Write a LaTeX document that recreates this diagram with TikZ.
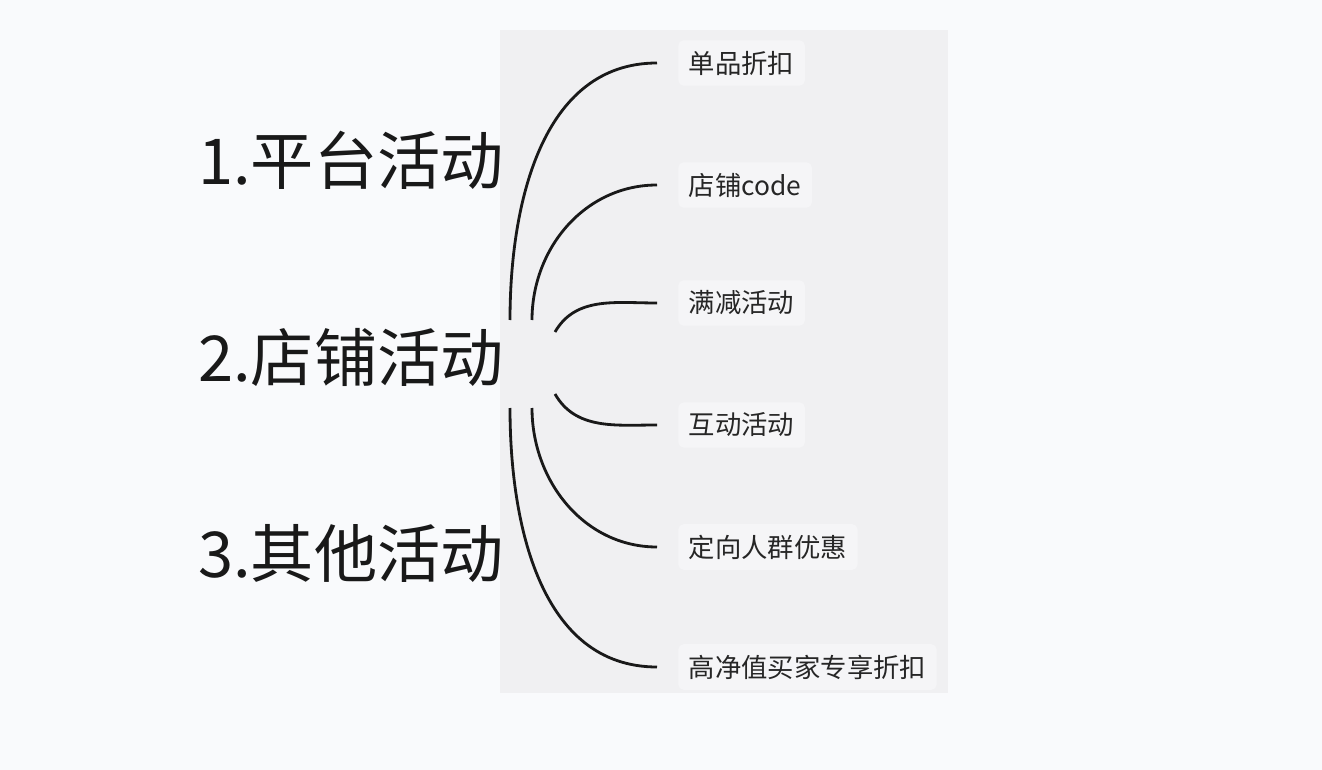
\documentclass[tikz,border=0pt]{standalone}
\usepackage{fontspec}
\setmainfont{Noto Sans CJK SC}
\definecolor{bg}{HTML}{F9FAFC}
\definecolor{panel}{HTML}{F0F0F2}
\definecolor{lbl}{HTML}{F5F5F7}
\tikzset{
  big/.style={font=\fontsize{36}{40}\selectfont, text=black!90, anchor=west},
  lab/.style={font=\fontsize{15}{17}\selectfont, text=black!85, anchor=west, fill=lbl, rounded corners=3pt, inner sep=6pt},
  br/.style={line width=1.6pt, draw=black!90}
}
\begin{document}
\begin{tikzpicture}[x=0.02cm,y=-0.02cm]
\fill[bg] (0,0) rectangle (1322,770);
\useasboundingbox (0,0) rectangle (1322,770);
\fill[panel] (500,30) rectangle (948,693);
\node[big] (t1) at (192,160) {1.平台活动};
\node[big] (t2) at (192,357) {2.店铺活动};
\node[big] (t3) at (192,553) {3.其他活动};
\node[lab] (l1) at (678,63) {单品折扣};
\node[lab] (l2) at (678,185) {店铺code};
\node[lab] (l3) at (678,303) {满减活动};
\node[lab] (l4) at (678,425) {互动活动};
\node[lab] (l5) at (678,547) {定向人群优惠};
\node[lab] (l6) at (678,667) {高净值买家专享折扣};
\coordinate (s1) at (510,320);
\coordinate (s2) at (532,320);
\coordinate (s3) at (555,332);
\coordinate (s4) at (555,394);
\coordinate (s5) at (532,408);
\coordinate (s6) at (510,408);
\coordinate (e1) at (657,63);
\coordinate (e2) at (657,185);
\coordinate (e3) at (657,303);
\coordinate (e4) at (657,425);
\coordinate (e5) at (657,547);
\coordinate (e6) at (657,667);
\draw[br] (s1) to[out=90,in=180] (e1);
\draw[br] (s2) to[out=90,in=180] (e2);
\draw[br] (s3) to[out=60,in=180] (e3);
\draw[br] (s4) to[out=-60,in=180] (e4);
\draw[br] (s5) to[out=-90,in=180] (e5);
\draw[br] (s6) to[out=-90,in=180] (e6);
\end{tikzpicture}
\end{document}
